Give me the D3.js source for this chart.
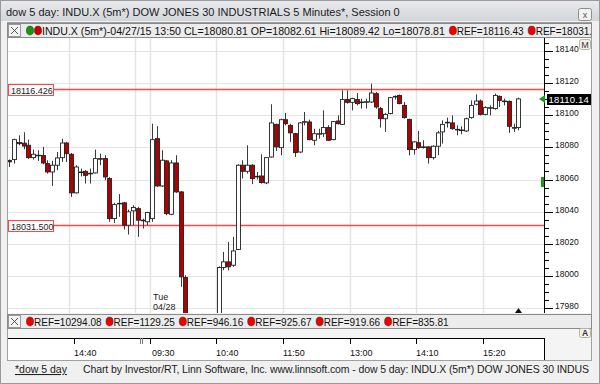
<!DOCTYPE html>
<html>
<head>
<meta charset="utf-8">
<script src="https://cdn.jsdelivr.net/npm/d3@7/dist/d3.min.js"></script>
<style>
  html, body { margin: 0; padding: 0; background: #f0f0f0; overflow: hidden; }
  svg { display: block; font-family: "Liberation Sans", Arial, sans-serif; }
</style>
</head>
<body>
<svg id="chart" width="600" height="384"></svg>
<script>
//*************************************************
// Data (5 minute bars, 04/27 13:35 -> 04/28 16:00)
//*************************************************
var opens = [
  18071.8, 18072.4, 18083.0, 18082.61, 18081.3, 18073.6, 18075.1, 18074.9, 18069.9, 18064.7,
  18068.9, 18073.6, 18082.7, 18075.7, 18051.7, 18064.7, 18065.1, 18063.5, 18064.1, 18073.0,
  18073.0, 18060.6, 18035.7, 18045.0, 18045.5, 18031.6, 18040.5, 18041.9, 18034.7, 18033.7,
  18035.7, 18085.4, 18056.0, 18071.6, 18038.4, 18070.3, 18052.3, 17999.1, 17962.0, 17950.5,
  17946.0, 17955.5, 17951.0, 17958.5, 17960.0, 18005.3, 18008.8, 18006.7, 18016.5, 18068.9,
  18065.1, 18068.9, 18062.0, 18062.2, 18057.9, 18074.0, 18094.3, 18079.8, 18097.2, 18093.7,
  18088.5, 18077.1, 18095.6, 18095.8, 18084.4, 18088.3, 18088.5, 18092.3, 18084.8, 18096.4,
  18094.3, 18109.7, 18108.0, 18109.7, 18108.2, 18108.0, 18108.2, 18113.4, 18104.1, 18097.8,
  18101.0, 18111.3, 18112.3, 18106.1, 18097.4, 18078.6, 18082.9, 18080.3, 18080.3, 18073.6,
  18080.7, 18089.6, 18095.2, 18095.2, 18091.2, 18090.8, 18090.2, 18098.5, 18106.8, 18108.8,
  18100.5, 18104.3, 18104.1, 18111.7, 18108.8, 18108.6, 18092.3, 18092.3
];
var highs = [
  18072.5, 18085.4, 18087.5, 18089.42, 18084.8, 18078.6, 18078.2, 18080.3, 18072.0, 18071.6,
  18077.1, 18085.4, 18083.4, 18076.5, 18068.9, 18066.8, 18065.8, 18066.8, 18078.6, 18076.1,
  18075.1, 18061.6, 18045.5, 18050.9, 18046.1, 18041.3, 18044.0, 18043.0, 18035.7, 18039.9,
  18094.7, 18093.1, 18078.2, 18072.0, 18072.0, 18075.1, 18052.8, 18000.5, 17968.0, 17958.0,
  17960.0, 17964.0, 17962.0, 17970.0, 18006.0, 18015.0, 18021.2, 18024.3, 18069.5, 18072.0,
  18081.3, 18069.5, 18064.7, 18075.7, 18074.0, 18106.8, 18094.7, 18097.8, 18101.4, 18094.7,
  18089.0, 18095.8, 18102.0, 18097.2, 18091.6, 18091.6, 18103.0, 18093.7, 18096.4, 18099.9,
  18115.4, 18115.4, 18110.9, 18113.8, 18110.3, 18110.3, 18119.6, 18114.4, 18105.1, 18101.4,
  18111.3, 18112.3, 18112.8, 18108.2, 18097.8, 18083.8, 18090.2, 18084.4, 18080.7, 18081.3,
  18090.2, 18096.8, 18098.5, 18099.9, 18093.7, 18093.1, 18098.5, 18109.2, 18113.0, 18109.7,
  18105.5, 18106.1, 18113.4, 18112.3, 18110.3, 18109.2, 18094.7, 18110.9
];
var lows = [
  18067.8, 18069.9, 18081.3, 18078.81, 18072.8, 18072.4, 18071.6, 18069.5, 18063.7, 18056.0,
  18065.8, 18070.9, 18070.9, 18049.2, 18051.3, 18062.0, 18057.5, 18057.5, 18063.7, 18068.9,
  18059.5, 18033.7, 18033.0, 18036.8, 18028.9, 18025.8, 18031.6, 18024.3, 18029.5, 18031.6,
  18033.7, 18055.4, 18055.4, 18037.8, 18037.8, 18051.7, 17993.3, 17955.0, 17944.0, 17938.0,
  17941.0, 17948.0, 17947.0, 17952.0, 17958.0, 18003.6, 18003.6, 18005.7, 18016.1, 18060.6,
  18063.7, 18057.1, 18060.0, 18057.5, 18057.1, 18073.6, 18077.8, 18075.1, 18093.7, 18083.4,
  18074.0, 18076.5, 18093.7, 18084.4, 18081.3, 18085.4, 18086.5, 18084.0, 18084.4, 18094.3,
  18093.9, 18107.2, 18103.0, 18106.1, 18104.1, 18104.1, 18107.6, 18104.1, 18092.3, 18089.6,
  18100.5, 18109.7, 18106.8, 18097.8, 18075.1, 18075.5, 18079.2, 18079.2, 18069.9, 18072.4,
  18075.1, 18082.3, 18092.3, 18091.0, 18087.5, 18088.1, 18089.6, 18097.8, 18106.1, 18099.9,
  18099.9, 18099.9, 18103.4, 18105.1, 18106.1, 18089.0, 18089.6, 18090.6
];
var closes = [
  18071.0, 18084.8, 18082.3, 18080.81, 18073.6, 18075.7, 18074.9, 18070.3, 18064.7, 18068.9,
  18073.4, 18082.7, 18076.1, 18051.7, 18067.8, 18064.5, 18062.6, 18063.9, 18073.0, 18072.8,
  18061.6, 18035.7, 18044.4, 18045.2, 18031.6, 18039.9, 18042.6, 18034.7, 18034.5, 18039.5,
  18084.8, 18056.0, 18072.0, 18038.8, 18070.3, 18052.3, 17999.5, 17962.0, 17950.5, 17946.0,
  17955.5, 17951.0, 17958.5, 17960.0, 18005.3, 18008.8, 18005.7, 18015.6, 18068.9, 18065.1,
  18068.9, 18060.6, 18061.6, 18058.1, 18073.6, 18095.2, 18080.3, 18097.2, 18094.7, 18089.0,
  18076.7, 18095.2, 18096.0, 18084.8, 18088.5, 18088.5, 18092.3, 18084.4, 18096.0, 18094.7,
  18109.7, 18108.0, 18110.3, 18107.2, 18108.0, 18108.4, 18113.8, 18105.1, 18097.8, 18100.5,
  18110.9, 18111.7, 18107.2, 18098.5, 18078.6, 18083.4, 18079.8, 18080.1, 18073.6, 18080.7,
  18089.0, 18094.3, 18095.6, 18091.6, 18091.0, 18090.6, 18097.8, 18106.1, 18108.8, 18100.5,
  18104.7, 18104.7, 18112.3, 18109.2, 18108.4, 18093.1, 18092.1, 18110.14
];

var refLines = [18116.426, 18031.500];
var topRefs = [18116.43, 18031.50];
var bottomRefs = [10294.08, 1129.25, 946.16, 925.67, 919.66, 835.81];
var yTicks = [17980, 18000, 18020, 18040, 18060, 18080, 18100, 18120, 18140];
var xTickLabels = ['14:40', '09:30', '10:40', '11:50', '13:00', '14:10', '15:20'];
var xTickBars = [14, 30, 44, 58, 72, 86, 100];
var gridBars = [13, 27, 30, 44, 58, 72, 86, 100];
var sessionBar = 28;
var cursorBar = 3;
var titleText = 'dow 5 day: INDU.X (5m*) DOW JONES 30 INDUSTRIALS 5 Minutes*, Session 0';
var footerText = 'Chart by Investor/RT, Linn Software, Inc. www.linnsoft.com - dow 5 day: INDU.X (5m*) DOW JONES 30 INDUS';


d3.candleWindow = function () {

    //*************************************************
    // Public Variables loaded with default values
    //*************************************************
    var _width = 600;
    var _height = 384;
    var _plot = { left: 8, right: 544, top: 38, bottom: 313 };
    var _yDomain = [17977, 18148];
    var _upColor = '#ffffff';
    var _downColor = '#b00000';
    var _refColor = '#ff4545';

    function chart(selection) {
        selection.each(function (data) {
            var svg = d3.select(this);
            var n = data.length;

            var x = d3.scaleBand().domain(d3.range(n)).range([7, 7 + n * 4.757]);
            var y = d3.scaleLinear().domain(_yDomain).range([_plot.bottom, _plot.top]);
            var bw = x.bandwidth();
            var cx = function (i) { return Math.round(x(i) + bw / 2); };
            var py = function (v) { return Math.round(y(v)) + 0.5; };

            var defs = svg.append('defs');
            var grad = defs.append('linearGradient').attr('id', 'titleGrad')
                .attr('x1', 0).attr('y1', 0).attr('x2', 0).attr('y2', 1);
            grad.append('stop').attr('offset', '0%').attr('stop-color', '#e8eaed');
            grad.append('stop').attr('offset', '100%').attr('stop-color', '#d2d5d9');
            defs.append('clipPath').attr('id', 'plotClip').append('rect')
                .attr('x', _plot.left).attr('y', _plot.top)
                .attr('width', _plot.right - _plot.left).attr('height', _plot.bottom - _plot.top);
            defs.append('clipPath').attr('id', 'winClip').append('rect')
                .attr('x', 0).attr('y', 0).attr('width', 591).attr('height', _height);

            //----------------------------------------------------------------------------------
            // window chrome
            //----------------------------------------------------------------------------------
            svg.append('rect').attr('width', _width).attr('height', _height).attr('fill', '#f0f0f0');
            svg.append('rect').attr('x', 0.5).attr('y', 0.5).attr('width', _width - 1).attr('height', _height - 1)
                .attr('fill', 'none').attr('stroke', '#9a9a9a');
            svg.append('rect').attr('x', 1).attr('y', 1).attr('width', _width - 2).attr('height', 20)
                .attr('fill', 'url(#titleGrad)');
            svg.append('text').attr('x', 6).attr('y', 16).attr('font-size', 11).attr('fill', '#1a1a1a')
                .text(titleText);
            svg.append('rect').attr('x', 578.5).attr('y', 8.5).attr('width', 13).attr('height', 12).attr('rx', 2)
                .attr('fill', '#f2f2f2').attr('stroke', '#8c8c8c');
            svg.append('text').attr('x', 585).attr('y', 17.5).attr('font-size', 9).attr('text-anchor', 'middle')
                .attr('fill', '#555').text('x');

            // panel
            svg.append('rect').attr('x', 7.5).attr('y', 22.5).attr('width', 584).attr('height', 338)
                .attr('fill', '#f4f4f4').attr('stroke', '#a0a0a0');
            svg.append('rect').attr('x', _plot.left).attr('y', _plot.top)
                .attr('width', 583).attr('height', _plot.bottom - _plot.top).attr('fill', '#fff');

            //----------------------------------------------------------------------------------
            // grid
            //----------------------------------------------------------------------------------
            var grid = svg.append('g').attr('clip-path', 'url(#plotClip)');
            grid.selectAll('line.hgrid').data(yTicks).enter().append('line').attr('class', 'hgrid')
                .attr('x1', _plot.left).attr('x2', _plot.right)
                .attr('y1', py).attr('y2', py)
                .attr('stroke', '#e4e4e4');
            grid.selectAll('line.vgrid').data(gridBars).enter().append('line').attr('class', 'vgrid')
                .attr('x1', function (d) { return Math.round(x(d)) + 0.5; })
                .attr('x2', function (d) { return Math.round(x(d)) + 0.5; })
                .attr('y1', _plot.top).attr('y2', _plot.bottom)
                .attr('stroke', '#e4e4e4').attr('stroke-width', 1.5);

            // reference lines (drawn as thin filled bands)
            svg.append('g').selectAll('rect.refline').data(refLines).enter().append('rect')
                .attr('class', 'refline')
                .attr('x', _plot.left).attr('width', _plot.right - _plot.left)
                .attr('y', function (d) { return Math.round(y(d)) - 0.25; })
                .attr('height', 1.5)
                .attr('fill', _refColor);

            //----------------------------------------------------------------------------------
            // candles
            //----------------------------------------------------------------------------------
            var candles = svg.append('g').attr('clip-path', 'url(#plotClip)')
                .selectAll('g.candle').data(data).enter().append('g').attr('class', 'candle');
            candles.append('line')
                .attr('x1', function (d) { return cx(d.i) + 0.5; })
                .attr('x2', function (d) { return cx(d.i) + 0.5; })
                .attr('y1', function (d) { return y(d.high); })
                .attr('y2', function (d) { return y(d.low); })
                .attr('stroke', '#3a3a3a');
            candles.append('rect')
                .attr('x', function (d) { return cx(d.i) - 1.5; })
                .attr('y', function (d) { return y(Math.max(d.open, d.close)); })
                .attr('width', 4)
                .attr('height', function (d) { return Math.max(0.6, Math.abs(y(d.open) - y(d.close))); })
                .attr('fill', function (d) { return d.close >= d.open ? _upColor : _downColor; })
                .attr('stroke', '#222').attr('stroke-width', 0.9);

            // reference labels
            var refLab = svg.append('g').selectAll('g.reflab').data(refLines).enter().append('g')
                .attr('class', 'reflab')
                .attr('transform', function (d) { return 'translate(8,' + (Math.round(y(d)) - 5) + ')'; });
            refLab.append('rect').attr('x', 0.5).attr('y', 0.5).attr('width', 45).attr('height', 11)
                .attr('fill', '#fff').attr('stroke', _refColor);
            refLab.append('text').attr('x', 3).attr('y', 9.5).attr('font-size', 9).attr('fill', '#222')
                .text(function (d) { return d.toFixed(3); });

            // last bar marker
            var last = data[n - 1];
            svg.append('path')
                .attr('d', 'M' + (cx(n - 1) - 3) + ',' + _plot.bottom + 'l3.5,-5l3.5,5z')
                .attr('fill', '#111');

            //----------------------------------------------------------------------------------
            // right axis
            //----------------------------------------------------------------------------------
            var axis = svg.append('g');
            axis.append('line').attr('x1', _plot.right + 0.5).attr('x2', _plot.right + 0.5)
                .attr('y1', _plot.top).attr('y2', _plot.bottom).attr('stroke', '#000');
            var minor = d3.range(17980, 18146, 5);
            axis.selectAll('line.mt').data(minor).enter().append('line').attr('class', 'mt')
                .attr('x1', _plot.right).attr('x2', function (d) { return d % 20 === 0 ? _plot.right + 9 : _plot.right + 5; })
                .attr('y1', py).attr('y2', py)
                .attr('stroke', '#000');
            axis.selectAll('text.yl').data(yTicks).enter().append('text').attr('class', 'yl')
                .attr('x', _plot.right + 11).attr('y', function (d) { return Math.round(y(d)) + 0.5; })
                .attr('font-size', 8.5).attr('fill', '#111')
                .text(function (d) { return d; });

            // last price marker
            var ly = Math.round(y(last.close));
            axis.append('path').attr('d', 'M' + (_plot.right - 5) + ',' + ly + 'l6,-4v8z').attr('fill', '#1a9a1a');
            axis.append('rect').attr('x', _plot.right + 3).attr('y', ly - 5).attr('width', 44).attr('height', 11)
                .attr('fill', '#000');
            axis.append('text').attr('x', _plot.right + 4.5).attr('y', ly + 4).attr('font-size', 9.5)
                .attr('fill', '#fff').attr('letter-spacing', 0.2).text(last.close.toFixed(2));
            axis.append('rect').attr('x', _plot.right - 3).attr('y', Math.round(y(18060)) - 3)
                .attr('width', 3).attr('height', 10).attr('fill', '#1a9a1a');
            axis.append('rect').attr('x', 579.5).attr('y', 39.5).attr('width', 11).attr('height', 10).attr('rx', 2)
                .attr('fill', '#f4f1e4').attr('stroke', '#b8b4a4');
            axis.append('text').attr('x', 585).attr('y', 48).attr('font-size', 9).attr('text-anchor', 'middle')
                .attr('fill', '#334').text('M');

            //----------------------------------------------------------------------------------
            // legends
            //----------------------------------------------------------------------------------
            var c = data[cursorBar];
            var topInfo = 'INDU.X (5m*)-04/27/15 13:50 CL=' + c.close.toFixed(2) + ' OP=' + c.open.toFixed(2) +
                ' Hi=' + c.high.toFixed(2) + ' Lo=' + c.low.toFixed(2);
            legendRow(svg, 23, [{ dots: ['#119911', '#cc0000'], text: topInfo, size: 10.6 }].concat(
                topRefs.map(function (r) { return { dots: ['#ee0000'], text: 'REF=' + r.toFixed(2) }; })));
            legendRow(svg, 314, bottomRefs.map(function (r) { return { dots: ['#ee0000'], text: 'REF=' + r.toFixed(2) }; }));

            svg.append('rect').attr('x', 579.5).attr('y', 328.5).attr('width', 11).attr('height', 9).attr('rx', 2)
                .attr('fill', '#f4f1e4').attr('stroke', '#b8b4a4');
            svg.append('text').attr('x', 585).attr('y', 336).attr('font-size', 8.5).attr('text-anchor', 'middle')
                .attr('font-weight', 'bold').attr('fill', '#334').text('A');

            //----------------------------------------------------------------------------------
            // time axis
            //----------------------------------------------------------------------------------
            var tg = svg.append('g');
            tg.append('rect').attr('x', 8).attr('y', 338).attr('width', _plot.right - 8).attr('height', 22)
                .attr('fill', '#fff');
            tg.append('line').attr('x1', 8).attr('x2', _plot.right + 0.5).attr('y1', 338.5).attr('y2', 338.5)
                .attr('stroke', '#000');
            tg.append('line').attr('x1', _plot.right + 0.5).attr('x2', _plot.right + 0.5).attr('y1', 338).attr('y2', 360)
                .attr('stroke', '#000');
            tg.selectAll('line.xt').data(xTickBars).enter().append('line').attr('class', 'xt')
                .attr('x1', function (d) { return Math.round(x(d)) + 0.5; })
                .attr('x2', function (d) { return Math.round(x(d)) + 0.5; })
                .attr('y1', 338).attr('y2', 344).attr('stroke', '#000');
            tg.selectAll('line.st').data([0, 2]).enter().append('line').attr('class', 'st')
                .attr('x1', function (d) { return Math.round(x(sessionBar)) + d + 0.5; })
                .attr('x2', function (d) { return Math.round(x(sessionBar)) + d + 0.5; })
                .attr('y1', 338).attr('y2', 344).attr('stroke', '#777');
            tg.selectAll('text.xl').data(xTickBars).enter().append('text').attr('class', 'xl')
                .attr('x', function (d) { return Math.round(x(d)) + (d === 30 ? 2 : 0); })
                .attr('y', 356).attr('font-size', 9).attr('fill', '#111')
                .text(function (d, i) { return xTickLabels[i]; });
            svg.append('text').attr('x', 153).attr('y', 300).attr('font-size', 9).attr('fill', '#222').text('Tue');
            svg.append('text').attr('x', 153).attr('y', 310).attr('font-size', 9).attr('fill', '#222').text('04/28');

            //----------------------------------------------------------------------------------
            // footer
            //----------------------------------------------------------------------------------
            svg.append('text').attr('x', 15).attr('y', 373).attr('font-size', 10.5).attr('fill', '#222')
                .attr('text-decoration', 'underline').text('*dow 5 day');
            svg.append('text').attr('x', 83).attr('y', 373).attr('font-size', 10.5).attr('fill', '#222')
                .attr('textLength', 506).attr('lengthAdjust', 'spacing').text(footerText);
        });
    }

    //----------------------------------------------------------------------------------
    // Helper Functions
    //----------------------------------------------------------------------------------
    function legendRow(svg, top, items) {
        var row = svg.append('g');
        row.append('rect').attr('x', 7.5).attr('y', top + 0.5).attr('width', 584).attr('height', 14)
            .attr('fill', '#ececec').attr('stroke', '#8a8a8a');
        row.append('rect').attr('x', 8.5).attr('y', top + 1.5).attr('width', 12).attr('height', 12)
            .attr('fill', '#f4f4f4').attr('stroke', '#999');
        row.append('path').attr('d', 'M11,' + (top + 4) + 'l7,7M18,' + (top + 4) + 'l-7,7')
            .attr('stroke', '#444').attr('stroke-width', 0.9);
        var inner = row.append('g').attr('clip-path', 'url(#winClip)');
        var pos = 22;
        items.forEach(function (item) {
            item.dots.forEach(function (col) {
                pos += 8;
                inner.append('ellipse').attr('cx', pos).attr('cy', top + 7.5).attr('rx', 3.6).attr('ry', 4.4)
                    .attr('fill', col).attr('stroke', '#333').attr('stroke-width', 0.5);
            });
            var t = inner.append('text').attr('x', pos + 4).attr('y', top + 11.5).attr('font-size', item.size || 10)
                .attr('fill', '#111').text(item.text);
            pos = pos + 4 + t.node().getComputedTextLength();
        });
    }

    //-------------------------------------------------
    // Getters and setters for public variables
    //-------------------------------------------------
    chart.width = function (value) {
        if (!arguments.length) { return _width; }
        _width = value;
        return chart;
    };
    chart.height = function (value) {
        if (!arguments.length) { return _height; }
        _height = value;
        return chart;
    };
    chart.yDomain = function (value) {
        if (!arguments.length) { return _yDomain; }
        _yDomain = value;
        return chart;
    };

    return chart;
};

var bars = opens.map(function (o, i) {
    return { i: i, open: o, high: highs[i], low: lows[i], close: closes[i] };
});

d3.select('#chart').datum(bars).call(d3.candleWindow());
</script>
</body>
</html>
